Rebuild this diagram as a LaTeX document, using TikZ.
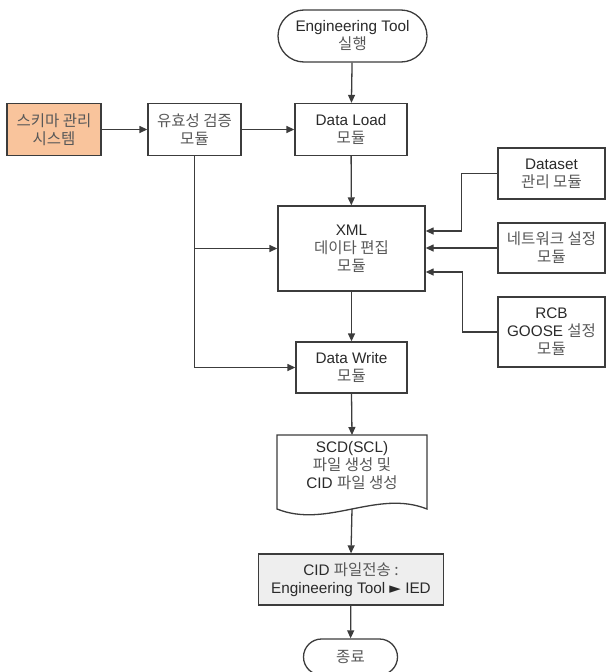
\documentclass[tikz,border=0pt]{standalone}
\usepackage{fontspec}
\setmainfont{Liberation Sans}
\newfontfamily\krfont{Noto Sans CJK KR}
\newfontfamily\symfont{DejaVu Sans}
\usetikzlibrary{arrows.meta}
% Korean runs in the CJK face, slightly lighter
\newcommand\kr[1]{{\krfont\fontsize{15.5}{18}\selectfont\color{krtext}#1}}
\definecolor{linec}{HTML}{3C3C3C}
\definecolor{maintext}{HTML}{2A2A2A}
\definecolor{krtext}{HTML}{585858}
\definecolor{schemafill}{HTML}{F9C49C}
\definecolor{sendfill}{HTML}{EEEEEE}
\begin{document}
\begin{tikzpicture}[x=1pt,y=-1pt,
  every node/.style={font=\fontsize{15.3}{18}\selectfont, text=maintext, align=center, inner sep=0pt},
  box/.style={draw=linec, line width=1.3pt, fill=white, rectangle},
  term/.style={box, rounded corners=#1},
  arr/.style={draw=linec, line width=1.3pt, -{Triangle[length=8pt,width=7pt]}},
  wire/.style={draw=linec, line width=1.3pt}]
\useasboundingbox (0,0) rectangle (606,672);

% process column
\node[term=26pt, minimum width=149pt, minimum height=52pt] (start) at (352.5,36) {Engineering Tool\\\kr{실행}};
\node[box, minimum width=112pt, minimum height=52pt] (load) at (351,129.5) {Data Load\\\kr{모듈}};
\node[box, minimum width=147pt, minimum height=85pt] (xml) at (351.5,248.5) {XML\\\kr{데이타 편집}\\\kr{모듈}};
\node[box, minimum width=111pt, minimum height=51pt] (write) at (351.5,367.5) {Data Write\\\kr{모듈}};

% document shape with wavy bottom edge
\draw[wire, fill=white] (277,435) -- (427,435) -- (427,509)
  .. controls (377,489) and (327,529) .. (277,509) -- cycle;
\node (doc) at (352,466) {SCD(SCL)\\\kr{파일 생성 및}\\CID \kr{파일 생성}};
\coordinate (doctop) at (352,435);
\coordinate (docbot) at (352,509);

\node[box, fill=sendfill, minimum width=185pt, minimum height=51pt] (send) at (351,579.5) {CID \kr{파일전송 :}\\Engineering Tool {\symfont\fontsize{15}{18}\selectfont ►} IED};
\node[term=18pt, minimum width=94pt, minimum height=36pt] (stop) at (350.5,657) {\kr{종료}};

% left side
\node[box, fill=schemafill, minimum width=94pt, minimum height=52pt] (schema) at (54,129.5) {\kr{스키마 관리}\\\kr{시스템}};
\node[box, minimum width=93pt, minimum height=52pt] (valid) at (194.5,129.5) {\kr{유효성 검증}\\\kr{모듈}};

% right side modules
\node[box, minimum width=107pt, minimum height=51pt] (dataset) at (551.5,173.5) {Dataset\\\kr{관리 모듈}};
\node[box, minimum width=107pt, minimum height=50pt] (net) at (551.5,248) {\kr{네트워크 설정}\\\kr{모듈}};
\node[box, minimum width=107pt, minimum height=70pt] (rcb) at (551.5,332) {RCB\\GOOSE \kr{설정}\\\kr{모듈}};

% connectors
\draw[arr] (start) -- (load);
\draw[arr] (schema) -- (valid);
\draw[arr] (valid) -- (load);
\draw[arr] (load) -- (xml);
\draw[arr] (valid.south) |- (write.west);
\coordinate (vbranch) at (valid.south |- xml.west);
\draw[arr] (vbranch) -- (xml.west);
\draw[arr] (xml) -- (write);
\draw[arr] (write.south) -- (doctop);
\draw[arr] (docbot) -- (send.north);
\draw[arr] (send) -- (stop);

\coordinate (jd) at (461.5,231);
\draw[arr] (dataset.west) -| (jd) -- (xml.east |- jd);
\draw[arr] (net.west) -- (xml.east |- net.west);
\coordinate (jr) at (462.5,272);
\draw[arr] (rcb.west) -| (jr) -- (xml.east |- jr);
\end{tikzpicture}
\end{document}
